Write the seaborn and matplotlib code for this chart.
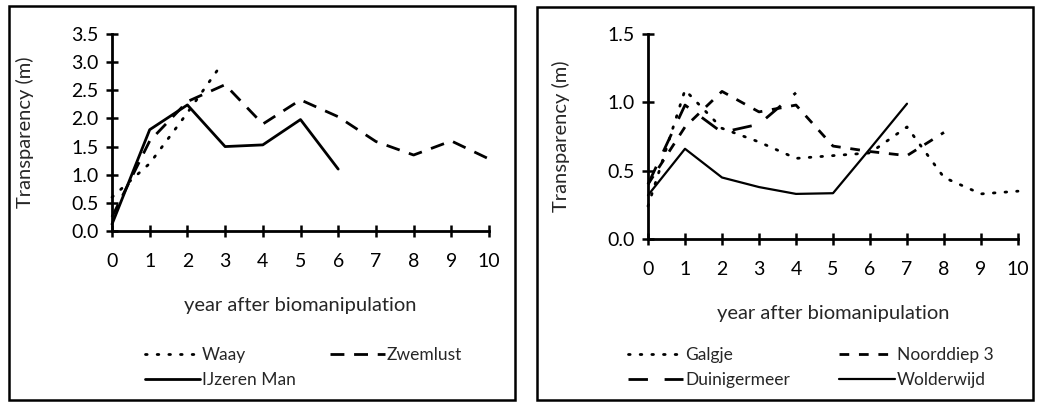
import matplotlib
matplotlib.use("Agg")
import matplotlib.pyplot as plt
import seaborn as sns
from matplotlib.patches import Rectangle

# --- DATA ---
# left panel
waay_years = [0, 1, 2, 2.8]
waay_depth = [0.6, 1.2, 2.1, 2.86]
zwemlust_years = [0, 1, 2, 3, 4, 5, 6, 7, 8, 9, 10]
zwemlust_depth = [0.25, 1.6, 2.3, 2.6, 1.9, 2.33, 2.03, 1.59, 1.35, 1.6, 1.28]
ijzeren_years = [0, 1, 2, 3, 4, 5, 6]
ijzeren_depth = [0.12, 1.8, 2.24, 1.5, 1.53, 1.98, 1.1]

# right panel
galgje_years = [0, 1, 2, 3, 4, 5, 6, 7, 8, 9, 10]
galgje_depth = [0.24, 1.09, 0.81, 0.71, 0.59, 0.61, 0.63, 0.82, 0.45, 0.33, 0.35]
noorddiep_years = [0, 1, 2, 3, 4, 5, 6, 7, 8]
noorddiep_depth = [0.4, 0.82, 1.08, 0.93, 0.98, 0.68, 0.64, 0.61, 0.78]
duiniger_years = [0, 1, 2, 3, 4]
duiniger_depth = [0.4, 0.98, 0.78, 0.84, 1.07]
wolder_years = [0, 1, 2, 3, 4, 5, 6, 7]
wolder_depth = [0.32, 0.66, 0.45, 0.38, 0.33, 0.335, 0.66, 0.99]

x_ticks = list(range(0, 11))
left_yticks = [0.0, 0.5, 1.0, 1.5, 2.0, 2.5, 3.0, 3.5]
right_yticks = [0.0, 0.5, 1.0, 1.5]

DOT = (0, (0.6, 3.6))
DASH = (0, (5, 3.5))
SHORTDASH = (0, (3.5, 3.5))
LONGDASH = (0, (7, 6))

sns.set_theme(style="ticks")
plt.rcParams['font.family'] = ['Lato', 'DejaVu Sans']

W, H = 1039, 403
fig = plt.figure(figsize=(W / 100, H / 100), dpi=100)


def px_axes(x0, x1, ytop, ybot):
    return fig.add_axes([x0 / W, 1 - ybot / H, (x1 - x0) / W, (ybot - ytop) / H])


ax1 = px_axes(112, 489, 34, 231)
ax2 = px_axes(648, 1018, 34, 239)

sns.lineplot(x=waay_years, y=waay_depth, ax=ax1, color='black', lw=2,
             linestyle=DOT, dash_capstyle='round', label='Waay')
sns.lineplot(x=ijzeren_years, y=ijzeren_depth, ax=ax1, color='black', lw=2,
             linestyle='-', label='IJzeren Man')
sns.lineplot(x=zwemlust_years, y=zwemlust_depth, ax=ax1, color='black', lw=2,
             linestyle=DASH, label='Zwemlust')

sns.lineplot(x=galgje_years, y=galgje_depth, ax=ax2, color='black', lw=2,
             linestyle=DOT, dash_capstyle='round', label='Galgje')
sns.lineplot(x=duiniger_years, y=duiniger_depth, ax=ax2, color='black', lw=2,
             linestyle=LONGDASH, label='Duinigermeer')
sns.lineplot(x=noorddiep_years, y=noorddiep_depth, ax=ax2, color='black', lw=2,
             linestyle=SHORTDASH, label='Noorddiep 3')
sns.lineplot(x=wolder_years, y=wolder_depth, ax=ax2, color='black', lw=1.6,
             linestyle='-', label='Wolderwijd')

for ax, yt, ymax in [(ax1, left_yticks, 3.5), (ax2, right_yticks, 1.5)]:
    ax.set_xlim(0, 10)
    ax.set_ylim(0, ymax)
    ax.set_xticks(x_ticks)
    ax.set_yticks(yt)
    ax.set_yticklabels([f"{v:.1f}" for v in yt])
    for s in ['top', 'right']:
        ax.spines[s].set_visible(False)
    for s in ['left', 'bottom']:
        ax.spines[s].set_linewidth(2)
        ax.spines[s].set_color('black')
    ax.tick_params(axis='both', direction='inout', length=9, width=1.8,
                   colors='black', labelsize=14)
    ax.tick_params(axis='x', pad=11)
    ax.tick_params(axis='y', pad=5)
    ax.set_xlabel('year after biomanipulation', fontsize=14.5, labelpad=20)
    ax.set_ylabel('Transparency (m)', fontsize=14.5, labelpad=27)
    ax.set_facecolor('white')
    ax.get_legend().remove()
    for ln in ax.lines:
        ln.set_clip_on(False)

# legends below each panel
h1, l1 = ax1.get_legend_handles_labels()
leg1 = fig.legend(h1, l1, ncol=2, loc='upper left',
                  bbox_to_anchor=(129 / W, 1 - 331 / H), frameon=False,
                  fontsize=12.5, handlelength=3.2, handletextpad=0.1,
                  columnspacing=1.95, labelspacing=0.55)
h2, l2 = ax2.get_legend_handles_labels()
leg2 = fig.legend(h2, l2, ncol=2, loc='upper left',
                  bbox_to_anchor=(612 / W, 1 - 331 / H), frameon=False,
                  fontsize=12.5, handlelength=3.2, handletextpad=0.1,
                  columnspacing=2.85, labelspacing=0.55)

# boxes around each panel
fig.patches.append(Rectangle((9 / W, 1 - 400 / H), (515 - 9) / W, (400 - 6) / H,
                             transform=fig.transFigure, fill=False,
                             edgecolor='black', lw=1.8))
fig.patches.append(Rectangle((537 / W, 1 - 400 / H), (1033 - 537) / W, (400 - 7) / H,
                             transform=fig.transFigure, fill=False,
                             edgecolor='black', lw=1.8))

fig.savefig('out.png', dpi=100, facecolor='white')
